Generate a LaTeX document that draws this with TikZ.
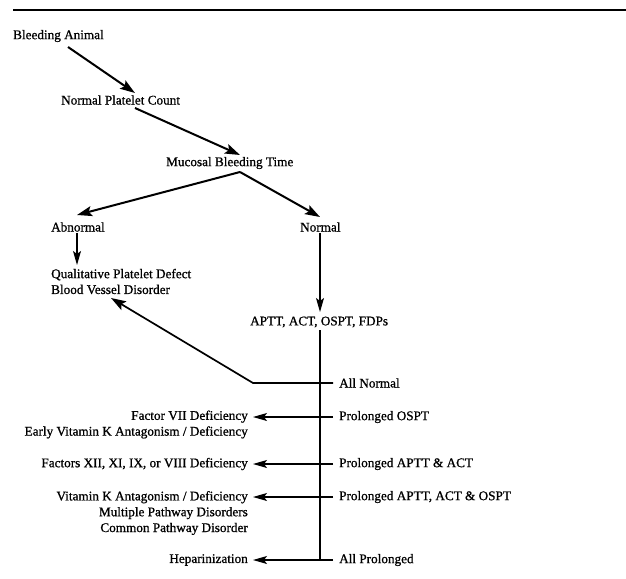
\documentclass[tikz,border=0pt]{standalone}
\usepackage{fontspec}
\setmainfont{Liberation Serif}[BoldFont={Liberation Serif},BoldFeatures={FakeBold=0.9}]
\usetikzlibrary{arrows.meta}
\begin{document}
\begin{tikzpicture}[x=1pt,y=-1pt,
  lbl/.style={inner sep=0pt, font=\fontsize{13.2}{15.8}\selectfont\bfseries},
  lw/.style={lbl, anchor=west, align=left},
  le/.style={lbl, anchor=east, align=right},
  bigarr/.style={line width=2pt, -{Stealth[length=15pt,width=10pt,inset=3pt]}},
  thinarr/.style={line width=1.2pt, -{Stealth[length=14pt,width=8pt,inset=3pt]}},
  thinline/.style={line width=1.2pt}]
\useasboundingbox (0,0) rectangle (626,578);
\coordinate (rl) at (13,10);
\coordinate (rr) at (626,10);
\draw[line width=1.3pt] (rl) -- (rr);

\node[lw] (ba) at (13,36) {Bleeding Animal};
\node[lw] (npc) at (61,100) {Normal Platelet Count};
\node[lw] (mbt) at (166,163) {Mucosal Bleeding Time};
\node[lw] (abn) at (51,227) {Abnormal};
\node[lw] (nor) at (300,227) {Normal};
\node[lw] (qpd) at (51,281.5) {Qualitative Platelet Defect\\Blood Vessel Disorder};
\node[lw] (aptt) at (250,322) {APTT, ACT, OSPT, FDPs};
\node[lw] (an) at (339,383) {All Normal};
\node[lw] (po) at (339,417) {Prolonged OSPT};
\node[lw] (paa) at (339,464) {Prolonged APTT \& ACT};
\node[lw] (paao) at (339,497) {Prolonged APTT, ACT \& OSPT};
\node[lw] (ap) at (339,560) {All Prolonged};
\node[le] (f7) at (248,424.5) {Factor VII Deficiency\\Early Vitamin K Antagonism / Deficiency};
\node[le] (f12) at (248,464) {Factors XII, XI, IX, or VIII Deficiency};
\node[le] (vk) at (248,513) {Vitamin K Antagonism / Deficiency\\Multiple Pathway Disorders\\Common Pathway Disorder};
\node[le] (hep) at (248,560) {Heparinization};

\draw[bigarr] ([shift={(55pt,-11pt)}]ba.west) -- ([shift={(74pt,7pt)}]npc.west);
\draw[bigarr] ([shift={(74pt,-8pt)}]npc.west) -- ([shift={(74pt,8pt)}]mbt.west);
\draw[bigarr] ([shift={(74pt,-9pt)}]mbt.west) -- ([shift={(26pt,12pt)}]abn.west);
\draw[bigarr] ([shift={(74pt,-9pt)}]mbt.west) -- ([shift={(20pt,10pt)}]nor.west);
\draw[thinarr] ([shift={(26pt,-6pt)}]abn.west) -- ([shift={(26pt,16.5pt)}]qpd.west);
\draw[thinarr] ([shift={(20pt,-6pt)}]nor.west) -- ([shift={(70pt,10pt)}]aptt.west);
\draw[thinline] ([shift={(70pt,-8pt)}]aptt.west) -- ([xshift=-19pt]ap.west);
\draw[line width=1.7pt, -{Stealth[length=15pt,width=10pt,inset=3pt]}] ([xshift=-6pt]an.west) -- ([xshift=-86pt]an.west) -- ([shift={(60pt,-16.5pt)}]qpd.west);
\draw[thinarr, shorten <=6pt, shorten >=5pt] (po.west) -- (po.west -| f7.east);
\draw[thinarr, shorten <=6pt, shorten >=5pt] (paa.west) -- (paa.west -| f12.east);
\draw[thinarr, shorten <=6pt, shorten >=5pt] (paao.west) -- (paao.west -| vk.east);
\draw[thinarr, shorten <=6pt, shorten >=5pt] (ap.west) -- (ap.west -| hep.east);
\end{tikzpicture}
\end{document}
